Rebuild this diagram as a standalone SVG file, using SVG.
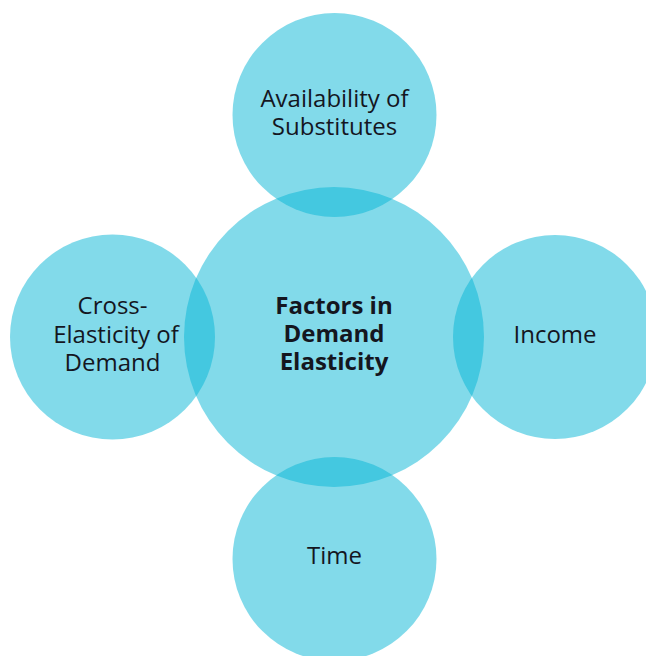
<svg xmlns="http://www.w3.org/2000/svg" width="646" height="656" viewBox="0 0 646 656">
<style>
.c{fill:#05B5D5;fill-opacity:0.5;}
.t{font-family:"Open Sans","Noto Sans",sans-serif;font-size:24px;fill:#14161f;text-anchor:middle;}
.b{font-weight:bold;}
</style>
<rect width="646" height="656" fill="#ffffff"/>
<g id="connectors"></g>
<g id="center">
<circle class="c" cx="334" cy="337" r="150"/>
<text class="t b" x="334" y="314">Factors in</text>
<text class="t b" x="334" y="342">Demand</text>
<text class="t b" x="334" y="370">Elasticity</text>
</g>
<g id="top">
<circle class="c" cx="334.5" cy="115" r="102"/>
<text class="t" x="334.5" y="107">Availability of</text>
<text class="t" x="334.5" y="135">Substitutes</text>
</g>
<g id="left">
<circle class="c" cx="112.5" cy="337" r="102.5"/>
<text class="t" x="112.5" y="314">Cross-</text>
<text class="t" x="116" y="343">Elasticity of</text>
<text class="t" x="112.5" y="371">Demand</text>
</g>
<g id="right">
<circle class="c" cx="555" cy="337" r="102"/>
<text class="t" x="555" y="343">Income</text>
</g>
<g id="bottom">
<circle class="c" cx="334.5" cy="559" r="102"/>
<text class="t" x="334.5" y="564">Time</text>
</g>
</svg>
